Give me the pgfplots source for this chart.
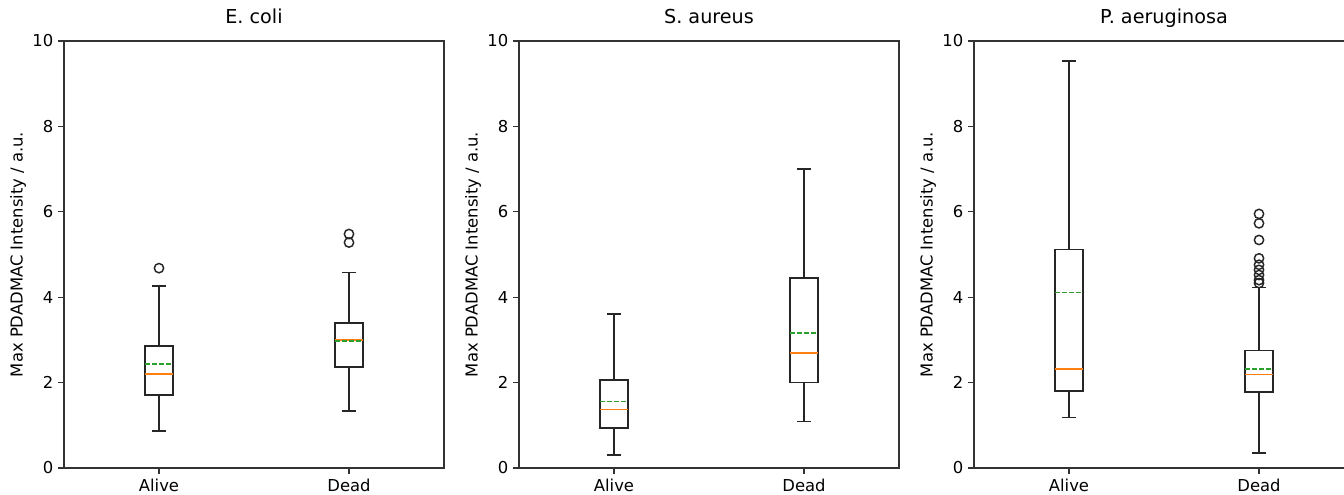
\documentclass[border=0pt]{standalone}
\usepackage{fontspec}
\setmainfont{DejaVu Sans}
\usepackage{pgfplots}
\pgfplotsset{compat=1.18}
\usepgfplotslibrary{statistics}
\definecolor{mplorange}{HTML}{FF7F0E}
\definecolor{mplgreen}{HTML}{2CA02C}
\definecolor{axgray}{HTML}{333333}
\pgfplotsset{
 panel/.style={
  scale only axis, width=285pt, height=320.25pt,
  xmin=0.5, xmax=2.5, ymin=0, ymax=10,
  xtick={1,2}, xticklabels={Alive,Dead},
  ytick={0,2,4,6,8,10},
  tick align=outside, tick pos=left, major tick length=4.5pt,
  axis line style={line width=1pt, axgray},
  every tick/.style={axgray, line width=1pt},
  /pgf/number format/assume math mode=true,
  tick label style={font=\fontsize{12.3}{14}\selectfont},
  title style={font=\fontsize{14.4}{17}\selectfont, at={(0.5,1)}, anchor=base, yshift=6.75pt},
  ylabel={Max PDADMAC Intensity / a.u.},
  ylabel style={font=\fontsize{12.3}{14}\selectfont, at={(axis description cs:-0.121,0.5)}, anchor=center},
  boxplot/draw direction=y,
  boxplot/box extend=0.15,
  boxplot/whisker extend=0.075,
  boxplot/every median/.style={draw=mplorange, solid, line width=1.4pt},
  boxplot/draw/average/.code={\draw[mplgreen, line width=1.3pt, dash pattern=on 3.6pt off 1.8pt] (boxplot box cs:\pgfplotsboxplotvalue{average},0) -- (boxplot box cs:\pgfplotsboxplotvalue{average},1);},
 },
 bx/.style={black!85, solid, line width=1.3pt, mark=o, mark size=3.5pt, mark options={solid, black!85, line width=1.1pt}},
}
\begin{document}
\begin{tikzpicture}
\path[use as bounding box] (-48pt,-20.25pt) rectangle (960pt,351pt);
\clip (-48pt,-20.25pt) rectangle (960pt,351pt);
% E. coli
\begin{axis}[panel, at={(0pt,0pt)}, anchor=south west, title={E. coli}]
\addplot[bx, boxplot prepared={draw position=1, lower whisker=0.86, lower quartile=1.71, median=2.21, upper quartile=2.85, upper whisker=4.26, average=2.43}] coordinates {(1,4.68)};
\addplot[bx, boxplot prepared={draw position=2, lower whisker=1.33, lower quartile=2.37, median=3.00, upper quartile=3.39, upper whisker=4.58, average=2.97}] coordinates {(2,5.28) (2,5.48)};
\end{axis}
% S. aureus
\begin{axis}[panel, at={(341.25pt,0pt)}, anchor=south west, title={S. aureus}]
\addplot[bx, boxplot prepared={draw position=1, lower whisker=0.31, lower quartile=0.93, median=1.37, upper quartile=2.06, upper whisker=3.60, average=1.56}] coordinates {};
\addplot[bx, boxplot prepared={draw position=2, lower whisker=1.09, lower quartile=2.00, median=2.69, upper quartile=4.45, upper whisker=7.01, average=3.16}] coordinates {};
\end{axis}
% P. aeruginosa
\begin{axis}[panel, at={(682.5pt,0pt)}, anchor=south west, title={P. aeruginosa}]
\addplot[bx, boxplot prepared={draw position=1, lower whisker=1.18, lower quartile=1.81, median=2.31, upper quartile=5.12, upper whisker=9.54, average=4.11}] coordinates {};
\addplot[bx, boxplot prepared={draw position=2, lower whisker=0.35, lower quartile=1.78, median=2.19, upper quartile=2.75, upper whisker=4.23, average=2.32}] coordinates {(2,4.33) (2,4.40) (2,4.52) (2,4.64) (2,4.76) (2,4.91) (2,5.34) (2,5.73) (2,5.95)};
\end{axis}
\end{tikzpicture}
\end{document}
